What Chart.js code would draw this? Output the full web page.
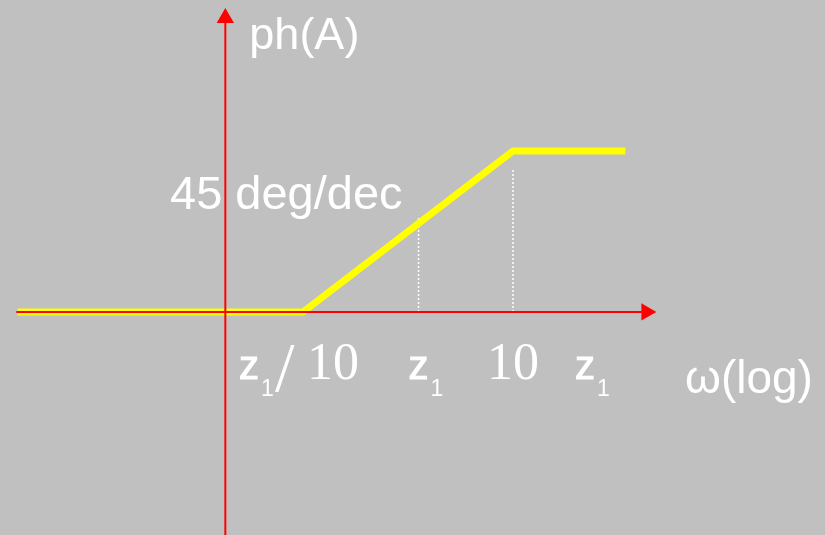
<!DOCTYPE html>
<html>
<head>
  <meta name="viewport" content="width=device-width, initial-scale=1.0">
  <title>Phase of a zero</title>
  <script src="https://cdn.jsdelivr.net/npm/chart.js"></script>
  <style>
    body {
      margin: 0;
      padding: 0;
      background: #c0c0c0;
    }
    #wrap {
      width: 825px;
      height: 535px;
      position: relative;
    }
  </style>
</head>
<body>
  <div id="wrap"><canvas id="myChart"></canvas></div>

  <script>
    // x = log10(w / z1) in decades, y = phase in degrees
    const phaseW = [-3.82, -1.1, 0.9, 1.97];
    const phaseDeg = [0, 0, 90, 90];

    // dotted guides under the breakpoints
    const guideW = [0, 0.9];
    const guideTop = [53.7, 80.5];

    // axes (arrow at the last point)
    const xAxisW = [-3.83, 2.17];
    const yAxisW = -1.84;
    const yAxisDeg = [-126, 164.3];

    const tickW = [-1.1, 0, 0.9];
    const tickLabels = ['z1/10', 'z1', '10 z1'];
    const yTitle = 'ph(A)';
    const xTitle = 'ω(log)';
    const slopeNote = '45 deg/dec';

    const SANS = '"Liberation Sans", Arial, sans-serif';
    const SERIF = '"Liberation Serif", "Times New Roman", serif';

    const line = (xs, ys) => xs.map((x, i) => ({ x: x, y: ys[i] }));

    const datasets = [
      {
        data: line(xAxisW, [0, 0]),
        borderColor: '#ff0000',
        backgroundColor: '#ff0000',
        borderWidth: 2,
        pointStyle: 'triangle',
        pointRadius: [0, 10],
        pointRotation: 90,
        pointBorderWidth: 0,
        order: 0
      },
      {
        data: line([yAxisW, yAxisW], yAxisDeg),
        borderColor: '#ff0000',
        backgroundColor: '#ff0000',
        borderWidth: 2,
        pointStyle: 'triangle',
        pointRadius: [0, 10],
        pointBorderWidth: 0,
        order: 0
      },
      {
        data: line(phaseW, phaseDeg),
        borderColor: '#ffff00',
        borderWidth: 7,
        borderCapStyle: 'butt',
        borderJoinStyle: 'miter',
        pointRadius: 0,
        order: 1
      }
    ];
    guideW.forEach((w, i) => {
      datasets.push({
        data: line([w, w], [0, guideTop[i]]),
        borderColor: '#ffffff',
        borderWidth: 1.5,
        borderDash: [2, 2],
        pointRadius: 0,
        order: 2
      });
    });

    // texts: titles, slope note and the z1 tick labels
    const labelStart = [-64, -10, -26];

    function heavyText(c, s, x, y) {
      c.fillText(s, x, y);
      c.strokeText(s, x, y);
    }

    function drawZ1(c, x, base) {
      c.font = '40px ' + SANS;
      heavyText(c, 'z', x, base);
      c.font = '23px ' + SANS;
      c.fillText('1', x + 22, base + 17);
    }

    const textPlugin = {
      id: 'texts',
      beforeDatasetsDraw(chart) {
        const c = chart.ctx;
        const xs = chart.scales.x;
        const ys = chart.scales.y;
        c.save();
        c.fillStyle = '#ffffff';
        c.strokeStyle = '#ffffff';
        c.lineWidth = 1;
        c.textBaseline = 'alphabetic';
        c.textAlign = 'left';

        c.font = '45px ' + SANS;
        c.fillText(yTitle, xs.getPixelForValue(yAxisW) + 24, 49);
        c.font = '47px ' + SANS;
        c.fillText(slopeNote, 170, 209);
        c.font = '46px ' + SANS;
        c.fillText(xTitle, 685, 393);

        const base = ys.getPixelForValue(0) + 67;
        tickLabels.forEach((lab, i) => {
          let x = xs.getPixelForValue(tickW[i]) + labelStart[i];
          lab.split(/(z1|\/| )/).filter(Boolean).forEach(tok => {
            if (tok === 'z1') {
              drawZ1(c, x, base);
              x += 36;
            } else if (tok === '/') {
              c.font = '70px ' + SERIF;
              c.fillText('/', x, base + 12);
              x += 32;
            } else if (tok === ' ') {
              x += 36;
            } else {
              c.font = '52px ' + SERIF;
              c.fillText(tok, x, base);
              x += c.measureText(tok).width;
            }
          });
        });
        c.restore();
      }
    };

    const ctx = document.getElementById('myChart').getContext('2d');
    const chart = new Chart(ctx, {
      type: 'scatter',
      data: { datasets: datasets },
      options: {
        responsive: true,
        maintainAspectRatio: false,
        animation: false,
        showLine: true,
        layout: { padding: 0, autoPadding: false },
        plugins: {
          legend: { display: false },
          tooltip: { enabled: false }
        },
        scales: {
          x: { type: 'linear', display: false, min: -3.986, max: 3.871 },
          y: { type: 'linear', display: false, min: -124.7, max: 174.4 }
        }
      },
      plugins: [textPlugin]
    });
  </script>
</body>
</html>
